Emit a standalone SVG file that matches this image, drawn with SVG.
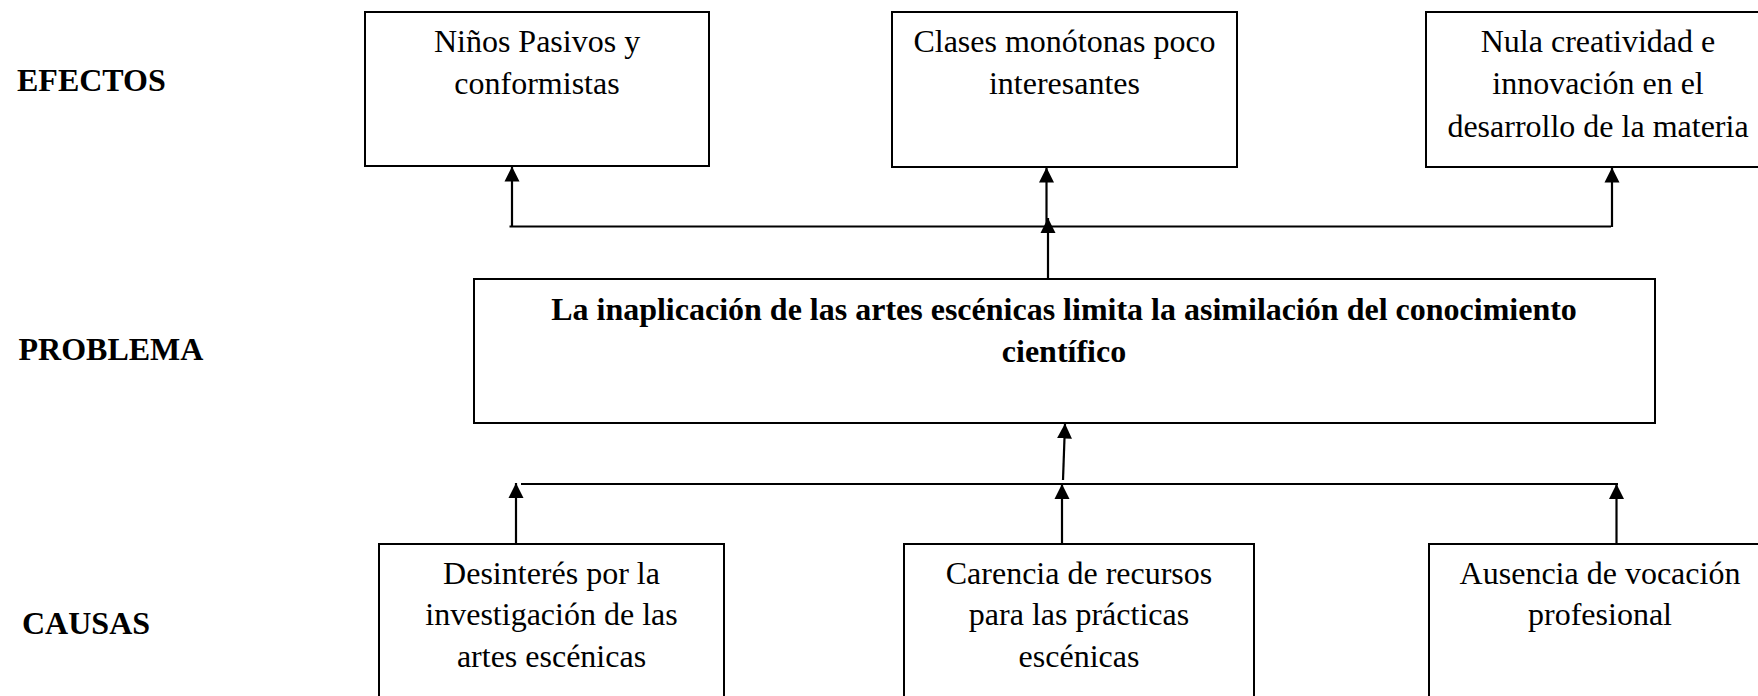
<svg xmlns="http://www.w3.org/2000/svg" width="1758" height="696" viewBox="0 0 1758 696">
<style>
.bx{fill:#fff;stroke:#000;stroke-width:2}
.t{font-family:"Liberation Serif","Times New Roman",serif;font-size:32px;fill:#000;text-anchor:middle}
.lb{font-family:"Liberation Serif","Times New Roman",serif;font-size:32px;font-weight:bold;fill:#000}
.b{font-weight:bold}
.ln{stroke:#000;stroke-width:2.2;fill:none}
</style>
<defs>
<marker id="ah" markerUnits="userSpaceOnUse" markerWidth="16" markerHeight="16" viewBox="0 0 16 16" refX="15" refY="8" orient="auto">
<polygon points="0,0.5 15,8 0,15.5" fill="#000"/>
</marker>
</defs>
<rect width="1758" height="696" fill="#fff"/>
<g id="labels">
<text class="lb" x="17" y="91">EFECTOS</text>
<text class="lb" x="18.5" y="360">PROBLEMA</text>
<text class="lb" x="22" y="634">CAUSAS</text>
</g>
<g id="efecto1">
<rect class="bx" x="365" y="12" width="344" height="154"/>
<text class="t" x="537" y="52">Niños Pasivos y</text>
<text class="t" x="537" y="94">conformistas</text>
</g>
<g id="efecto2">
<rect class="bx" x="892" y="12" width="345" height="155"/>
<text class="t" x="1064.5" y="52">Clases monótonas poco</text>
<text class="t" x="1064.5" y="94">interesantes</text>
</g>
<g id="efecto3">
<rect class="bx" x="1426" y="12" width="344" height="155"/>
<text class="t" x="1598" y="51.5">Nula creatividad e</text>
<text class="t" x="1598" y="94">innovación en el</text>
<text class="t" x="1598" y="136.5">desarrollo de la materia</text>
</g>
<g id="problema">
<rect class="bx" x="474" y="279" width="1181" height="144"/>
<text class="t b" x="1064" y="319.5">La inaplicación de las artes escénicas limita la asimilación del conocimiento</text>
<text class="t b" x="1064" y="361.5">científico</text>
</g>
<g id="causa1">
<rect class="bx" x="379" y="544" width="345" height="170"/>
<text class="t" x="551.5" y="583.5">Desinterés por la</text>
<text class="t" x="551.5" y="625">investigación de las</text>
<text class="t" x="551.5" y="667">artes escénicas</text>
</g>
<g id="causa2">
<rect class="bx" x="904" y="544" width="350" height="170"/>
<text class="t" x="1079" y="583.5">Carencia de recursos</text>
<text class="t" x="1079" y="625">para las prácticas</text>
<text class="t" x="1079" y="667">escénicas</text>
</g>
<g id="causa3">
<rect class="bx" x="1429" y="544" width="345" height="170"/>
<text class="t" x="1600" y="583.5">Ausencia de vocación</text>
<text class="t" x="1600" y="625">profesional</text>
</g>
<g id="connectors">
<line class="ln" x1="509.5" y1="226.5" x2="1611" y2="226.5"/>
<line class="ln" x1="512" y1="227" x2="512" y2="166.5" marker-end="url(#ah)"/>
<line class="ln" x1="1046.5" y1="227" x2="1046.5" y2="167.5" marker-end="url(#ah)"/>
<line class="ln" x1="1612" y1="227" x2="1612" y2="167.5" marker-end="url(#ah)"/>
<line class="ln" x1="1048" y1="278" x2="1048" y2="218" marker-end="url(#ah)"/>
<line class="ln" x1="521" y1="484" x2="1618" y2="484"/>
<line class="ln" x1="516" y1="544" x2="516" y2="483" marker-end="url(#ah)"/>
<line class="ln" x1="1062" y1="544" x2="1062" y2="484" marker-end="url(#ah)"/>
<line class="ln" x1="1616.5" y1="544" x2="1616.5" y2="484" marker-end="url(#ah)"/>
<line class="ln" x1="1063" y1="480" x2="1065" y2="423.5" marker-end="url(#ah)"/>
</g>
</svg>
